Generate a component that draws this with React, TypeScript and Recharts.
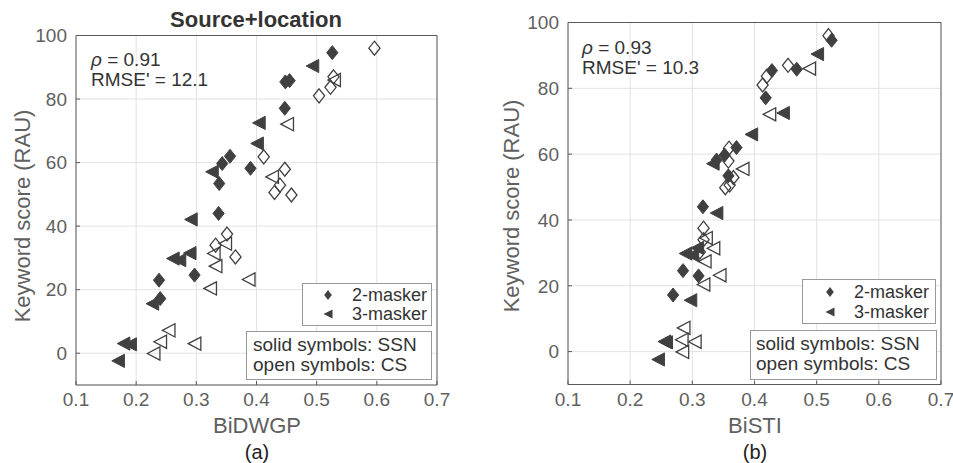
import React from 'react';
import { ScatterChart, Scatter, XAxis, YAxis, CartesianGrid } from 'recharts';

// ---------- data ----------
const xTicks = [0.1, 0.2, 0.3, 0.4, 0.5, 0.6, 0.7];
const yTicks = [0, 20, 40, 60, 80, 100];

// SSN, 2-masker (filled diamonds)
const ssn2Score = [94.6, 85.4, 85.8, 77.1, 62.0, 59.7, 58.2, 53.4, 44.0, 24.6, 23.0, 17.2];
const ssn2Dwgp = [0.526, 0.448, 0.455, 0.447, 0.356, 0.343, 0.39, 0.338, 0.337, 0.297, 0.238, 0.24];
const ssn2Sti = [0.524, 0.428, 0.468, 0.418, 0.371, 0.352, 0.339, 0.358, 0.317, 0.285, 0.31, 0.269];

// SSN, 3-masker (filled left triangles)
const ssn3Score = [90.4, 72.5, 66.0, 57.1, 42.1, 29.8, 29.3, 31.5, 15.6, 3.05, 2.8, -2.4];
const ssn3Dwgp = [0.493, 0.404, 0.401, 0.326, 0.291, 0.261, 0.272, 0.289, 0.227, 0.179, 0.19, 0.17];
const ssn3Sti = [0.501, 0.446, 0.395, 0.333, 0.339, 0.289, 0.3, 0.308, 0.297, 0.255, 0.258, 0.245];

// CS, 2-masker (open diamonds)
const cs2Score = [96.0, 87.0, 83.7, 81.0, 61.8, 57.9, 52.9, 50.6, 49.8, 37.5, 34.0, 30.3];
const cs2Dwgp = [0.596, 0.528, 0.523, 0.504, 0.412, 0.447, 0.439, 0.43, 0.458, 0.351, 0.332, 0.365];
const cs2Sti = [0.519, 0.454, 0.42, 0.413, 0.359, 0.358, 0.366, 0.36, 0.353, 0.318, 0.318, 0.312];

// CS, 3-masker (open left triangles)
const cs3Score = [86.0, 72.1, 55.5, 34.5, 31.4, 27.4, 20.4, 23.2, 7.2, 3.6, -0.1, 3.0];
const cs3Dwgp = [0.529, 0.451, 0.426, 0.348, 0.329, 0.332, 0.323, 0.387, 0.254, 0.24, 0.229, 0.297];
const cs3Sti = [0.488, 0.424, 0.381, 0.322, 0.334, 0.32, 0.318, 0.344, 0.286, 0.283, 0.284, 0.304];

// ---------- styles ----------
const FONT = '"Liberation Sans", Arial, Helvetica, sans-serif';
const MARK = '#404040';
const AXIS = '#5a5a5a';
const TICKTXT = '#606060';
const GRID = '#e2e2e2';

const pts = (xs: number[], ys: number[]) => xs.map((x, i) => ({ x, y: ys[i] }));

const diamondPath = (cx: number, cy: number, w: number, h: number) =>
  `M${cx},${cy - h}L${cx + w},${cy}L${cx},${cy + h}L${cx - w},${cy}Z`;
const triPath = (cx: number, cy: number, w: number, h: number) =>
  `M${cx - w},${cy}L${cx + w},${cy - h}L${cx + w},${cy + h}Z`;

const makeShape = (kind: 'd' | 't', filled: boolean) => (props: any) => {
  const { cx, cy } = props;
  if (cx == null || cy == null) return <g />;
  const d = kind === 'd' ? diamondPath(cx, cy, 5.6, 7) : triPath(cx, cy, 6.3, 6.6);
  return (
    <path
      d={d}
      fill={filled ? MARK : 'none'}
      stroke={MARK}
      strokeWidth={filled ? 1 : 1.3}
      strokeLinejoin="miter"
    />
  );
};

const tickStyle = { fill: TICKTXT, fontSize: 19, fontFamily: FONT };

interface PanelProps {
  left: number;
  width: number;
  margin: { top: number; right: number; bottom: number; left: number };
  xs: [number[], number[], number[], number[]];
}

const Panel = ({ left, width, margin, xs }: PanelProps) => (
  <div style={{ position: 'absolute', left, top: 0, width, height: 463 }}>
    <ScatterChart width={width} height={463} margin={margin}>
      <CartesianGrid stroke={GRID} strokeWidth={1} />
      <XAxis
        type="number"
        dataKey="x"
        domain={[0.1, 0.7]}
        ticks={xTicks}
        interval={0}
        allowDataOverflow
        tickFormatter={(v: number) => v.toFixed(1)}
        tick={tickStyle}
        tickSize={-4}
        tickMargin={12}
        height={40}
        stroke={AXIS}
      />
      <XAxis
        xAxisId="top"
        orientation="top"
        type="number"
        domain={[0.1, 0.7]}
        ticks={xTicks}
        interval={0}
        allowDataOverflow
        tick={false}
        tickSize={-4}
        height={10}
        stroke={AXIS}
      />
      <YAxis
        type="number"
        dataKey="y"
        domain={[-10, 100]}
        ticks={yTicks}
        interval={0}
        allowDataOverflow
        tick={tickStyle}
        tickSize={-4}
        tickMargin={13}
        width={60}
        stroke={AXIS}
      />
      <YAxis
        yAxisId="right"
        orientation="right"
        type="number"
        domain={[-10, 100]}
        ticks={yTicks}
        interval={0}
        allowDataOverflow
        tick={false}
        tickSize={-4}
        width={10}
        stroke={AXIS}
      />
      <Scatter name="CS 2-masker" data={pts(xs[2], cs2Score)} shape={makeShape('d', false)} isAnimationActive={false} />
      <Scatter name="CS 3-masker" data={pts(xs[3], cs3Score)} shape={makeShape('t', false)} isAnimationActive={false} />
      <Scatter name="SSN 2-masker" data={pts(xs[0], ssn2Score)} shape={makeShape('d', true)} isAnimationActive={false} />
      <Scatter name="SSN 3-masker" data={pts(xs[1], ssn3Score)} shape={makeShape('t', true)} isAnimationActive={false} />
    </ScatterChart>
  </div>
);

const txt = { fontFamily: FONT } as const;

const Overlay = () => (
  <svg
    width={953}
    height={463}
    style={{ position: 'absolute', left: 0, top: 0, pointerEvents: 'none' }}
  >
    {/* title */}
    <text x={256} y={19} textAnchor="middle" dominantBaseline="central" fontSize={22} fontWeight="bold" fill="#333" style={txt}>
      Source+location
    </text>

    {/* y-axis labels */}
    <text x={22} y={216} transform="rotate(-90 22 216)" textAnchor="middle" dominantBaseline="central" fontSize={22} fill={TICKTXT} style={txt}>
      Keyword score (RAU)
    </text>
    <text x={511} y={206} transform="rotate(-90 511 206)" textAnchor="middle" dominantBaseline="central" fontSize={22} fill={TICKTXT} style={txt}>
      Keyword score (RAU)
    </text>

    {/* x-axis labels */}
    <text x={257} y={425} textAnchor="middle" dominantBaseline="central" fontSize={22} fill={TICKTXT} style={txt}>BiDWGP</text>
    <text x={755} y={425} textAnchor="middle" dominantBaseline="central" fontSize={22} fill={TICKTXT} style={txt}>BiSTI</text>
    <text x={257} y={452} textAnchor="middle" dominantBaseline="central" fontSize={20} fill="#222" style={txt}>(a)</text>
    <text x={755} y={452} textAnchor="middle" dominantBaseline="central" fontSize={20} fill="#222" style={txt}>(b)</text>

    {/* stats */}
    <text x={91} y={66} fontSize={19} fill="#333" style={txt}>
      <tspan fontStyle="italic">ρ</tspan> = 0.91
    </text>
    <text x={91} y={85.5} fontSize={19} fill="#333" style={txt}>RMSE' = 12.1</text>
    <text x={582} y={53.5} fontSize={19} fill="#333" style={txt}>
      <tspan fontStyle="italic">ρ</tspan> = 0.93
    </text>
    <text x={582} y={73.5} fontSize={19} fill="#333" style={txt}>RMSE' = 10.3</text>

    {/* left legends */}
    <rect x={302.5} y={283.5} width={129} height={42} fill="#fff" stroke="#999" strokeWidth={1} />
    <path d={diamondPath(328, 295, 3.8, 5)} fill={MARK} />
    <path d={triPath(328, 314, 4.5, 4.5)} fill={MARK} />
    <text x={352} y={294.5} dominantBaseline="central" fontSize={18} fill="#333" style={txt}>2-masker</text>
    <text x={352} y={314} dominantBaseline="central" fontSize={18} fill="#333" style={txt}>3-masker</text>

    <rect x={246.5} y={331.5} width={185} height={48} fill="#fff" stroke="#999" strokeWidth={1} />
    <text x={253} y={344.5} dominantBaseline="central" fontSize={19} fill="#333" style={txt}>solid symbols: SSN</text>
    <text x={253} y={364.5} dominantBaseline="central" fontSize={19} fill="#333" style={txt}>open symbols: CS</text>

    {/* right legends */}
    <rect x={802.5} y={279.5} width={133} height={44} fill="#fff" stroke="#999" strokeWidth={1} />
    <path d={diamondPath(830, 292, 3.8, 5)} fill={MARK} />
    <path d={triPath(830, 312, 4.5, 4.5)} fill={MARK} />
    <text x={854} y={291.5} dominantBaseline="central" fontSize={18} fill="#333" style={txt}>2-masker</text>
    <text x={854} y={311.5} dominantBaseline="central" fontSize={18} fill="#333" style={txt}>3-masker</text>

    <rect x={750.5} y={330.5} width={186} height={49} fill="#fff" stroke="#999" strokeWidth={1} />
    <text x={756} y={343.5} dominantBaseline="central" fontSize={19} fill="#333" style={txt}>solid symbols: SSN</text>
    <text x={756} y={363.5} dominantBaseline="central" fontSize={19} fill="#333" style={txt}>open symbols: CS</text>
  </svg>
);

export default function App() {
  return (
    <div style={{ position: 'absolute', left: 0, top: 0, width: 953, height: 463, background: '#fff', overflow: 'hidden' }}>
      <Panel
        left={0}
        width={470}
        margin={{ top: 25.5, right: 23, bottom: 38, left: 16 }}
        xs={[ssn2Dwgp, ssn3Dwgp, cs2Dwgp, cs3Dwgp]}
      />
      <Panel
        left={480}
        width={473}
        margin={{ top: 12.5, right: 2, bottom: 38.5, left: 28 }}
        xs={[ssn2Sti, ssn3Sti, cs2Sti, cs3Sti]}
      />
      <Overlay />
    </div>
  );
}
